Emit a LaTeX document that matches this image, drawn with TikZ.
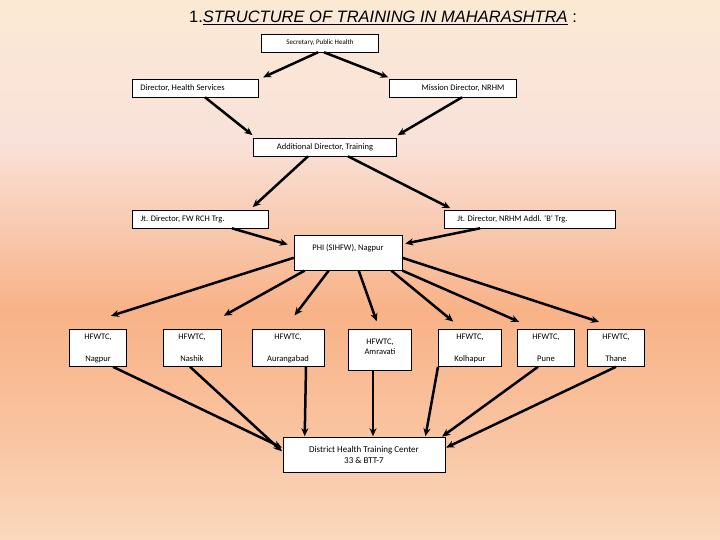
\documentclass[tikz,border=0pt]{standalone}
\usepackage{fontspec}
\setmainfont{Carlito}
\newfontfamily\titlefont{Liberation Sans}
\usetikzlibrary{calc,arrows.meta}
\definecolor{bgA}{HTML}{FAD9BE}
\definecolor{bgE}{HTML}{F9C5A2}
\definecolor{bgB}{HTML}{F8B287}
\definecolor{bgC}{HTML}{F9E2DA}
\definecolor{bgD}{HTML}{FBE9D4}
\begin{document}
\begin{tikzpicture}[x=1pt,y=-1pt,
 box/.style={draw=black,fill=white,line width=0.6pt,inner sep=0pt,font=\fontsize{8.5}{10}\selectfont},
 arr/.style={-{Stealth[length=8pt,width=7pt]},line width=2.5pt,shorten >=1pt}]
\useasboundingbox (0,0) rectangle (720,540);
\shade[top color=bgD,bottom color=bgC,draw=none] (0,-0.5) rectangle (720,140.5);
\shade[top color=bgC,bottom color=bgB,draw=none] (0,140) rectangle (720,310.5);
\shade[top color=bgB,bottom color=bgE,draw=none] (0,310) rectangle (720,440.5);
\shade[top color=bgE,bottom color=bgA,draw=none] (0,440) rectangle (720,540);
\node[font=\titlefont\fontsize{16.5}{18}\selectfont] (title) at (383,18)
 {1.\underline{\textit{STRUCTURE OF TRAINING IN MAHARASHTRA}} :};
\node[box,minimum width=117pt,minimum height=18pt,font=\fontsize{7}{8}\selectfont] (sec) at (320,43) {Secretary, Public Health};
\node[box,minimum width=126pt,minimum height=18pt] (dhs) at (195,88) {\hspace*{-25pt}Director, Health Services};
\node[box,minimum width=127pt,minimum height=18pt] (md) at (453,88) {\hspace*{20pt}Mission Director, NRHM};
\node[box,minimum width=143pt,minimum height=18pt] (ad) at (325,147) {Additional Director, Training};
\node[box,minimum width=136pt,minimum height=18pt] (jfw) at (200,219) {\hspace*{-35pt}Jt. Director, FW RCH Trg.};
\node[box,minimum width=171pt,minimum height=18pt] (jnr) at (530,219) {\hspace*{-35pt}Jt. Director, NRHM Addl. `B' Trg.};
\node[box,minimum width=108pt,minimum height=35pt,anchor=north] (phi) at (348,235) {\raisebox{10pt}{PHI (SIHFW), Nagpur}};
\tikzset{hf/.style={box,minimum height=37pt,align=center}}
\node[hf,minimum width=57pt] (h1) at (98,348) {HFWTC,\\[12pt]Nagpur};
\node[hf,minimum width=58pt] (h2) at (192,348) {HFWTC,\\[12pt]Nashik};
\node[hf,minimum width=72pt] (h3) at (288,348) {HFWTC,\\[12pt]Aurangabad};
\node[hf,minimum width=63pt,minimum height=41pt] (h4) at (380,350) {\raisebox{6pt}{\shortstack{HFWTC,\\Amravati}}};
\node[hf,minimum width=63pt] (h5) at (470,348) {HFWTC,\\[12pt]Kolhapur};
\node[hf,minimum width=57pt] (h6) at (546,348) {HFWTC,\\[12pt]Pune};
\node[hf,minimum width=57pt] (h7) at (616,348) {HFWTC,\\[12pt]Thane};
\node[box,minimum width=162pt,minimum height=35pt,align=center,font=\fontsize{9}{11}\selectfont] (dh) at (364,455) {District Health Training Center\\33 \& BTT-7};
% arrows
\draw[arr] ($(sec.south)+(-2,0)$) -- ($(dhs.north east)+(4,-1)$);
\draw[arr] ($(sec.south)+(4,0)$) -- ($(md.north west)+(0,-1)$);
\draw[arr] ($(dhs.south)+(10,0)$) -- ($(ad.north west)+(0,-2)$);
\draw[arr] ($(md.south)+(9,0)$) -- ($(ad.north east)+(0,-2)$);
\draw[arr] ($(ad.south)+(-17,0)$) -- ($(jfw.north)+(52,-2)$);
\draw[arr] ($(ad.south)+(23,0)$) -- ($(jnr.north west)+(7,-1)$);
\draw[arr] ($(jfw.south)+(32,0)$) -- ($(phi.west)+(-5,-8)$);
\draw[arr] ($(jnr.south)+(-50,0)$) -- ($(phi.east)+(2,-9)$);
\draw[arr] ($(phi.west)+(0,5)$) -- ($(h1.north)+(12,-13)$);
\draw[arr] ($(phi.south west)+(11,0)$) -- ($(h2.north)+(31,-13)$);
\draw[arr] ($(phi.south west)+(35,0)$) -- ($(h3.north)+(6,-13)$);
\draw[arr] ($(phi.south west)+(65,0)$) -- ($(h4.north)+(-3,-7)$);
\draw[arr] ($(phi.south east)+(-11,0)$) -- ($(h5.north)+(-16,-7)$);
\draw[arr] ($(phi.south east)+(0,0)$) -- ($(h6.north)+(-26,-7)$);
\draw[arr] ($(phi.east)+(0,5)$) -- ($(h7.north)+(-16,-7)$);
\draw[arr] ($(h1.south)+(15,0)$) -- ($(dh.west)+(0,-7)$);
\draw[arr] ($(h2.south)+(-2,0)$) -- ($(dh.west)+(0,-3)$);
\draw[arr] ($(h3.south)+(18,0)$) -- ($(dh.north west)+(22,0)$);
\draw[arr] ($(h4.south)+(-7,0)$) -- ($(dh.north)+(9,0)$);
\draw[arr] ($(h5.south)+(-32,0)$) -- ($(dh.north east)+(-20,0)$);
\draw[arr] ($(h6.south)+(-8,0)$) -- ($(dh.north east)+(-4,0)$);
\draw[arr] ($(h7.south)+(0,0)$) -- ($(dh.east)+(0,-7)$);
\end{tikzpicture}
\end{document}
